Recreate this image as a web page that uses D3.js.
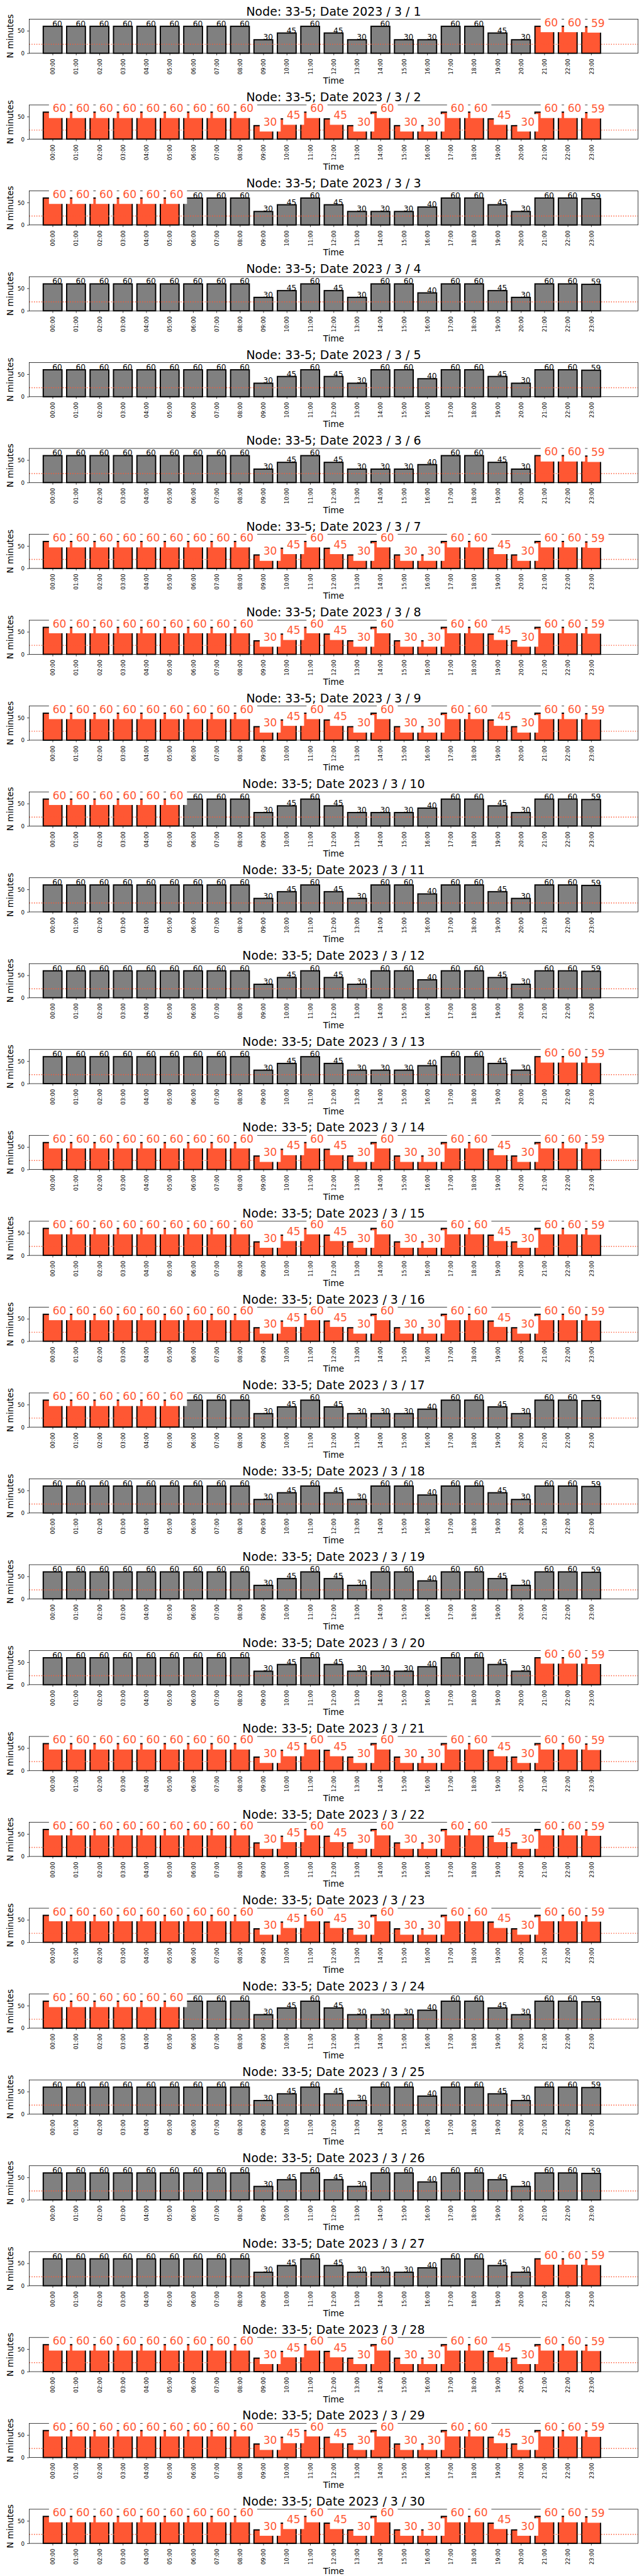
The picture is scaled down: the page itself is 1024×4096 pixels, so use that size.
<!DOCTYPE html>
<html>
<head>
<meta charset="utf-8">
<script src="https://cdn.jsdelivr.net/npm/d3@7"></script>
<style>
  html, body { margin: 0; padding: 0; background: #fff; }
  svg { display: block; }
</style>
</head>
<body>
<script>
// ---------------- DATA ----------------
const nodeName = "33-5";
const yearLabel = 2023;
const monthLabel = 3;
const days = [1,2,3,4,5,6,7,8,9,10,11,12,13,14,15,16,17,18,19,20,21,22,23,24,25,26,27,28,29,30];
const hourLabels = ["00:00","01:00","02:00","03:00","04:00","05:00","06:00","07:00","08:00","09:00","10:00","11:00",
                    "12:00","13:00","14:00","15:00","16:00","17:00","18:00","19:00","20:00","21:00","22:00","23:00"];
const yTickValues = [0, 50];
const thresholdMinutes = 20;

const minutes_03_01 = [60,60,60,60,60,60,60,60,60,30,45,60,45,30,60,30,30,60,60,45,30,60,60,59];
const minutes_03_02 = [60,60,60,60,60,60,60,60,60,30,45,60,45,30,60,30,30,60,60,45,30,60,60,59];
const minutes_03_03 = [60,60,60,60,60,60,60,60,60,30,45,60,45,30,30,30,40,60,60,45,30,60,60,59];
const minutes_03_04 = [60,60,60,60,60,60,60,60,60,30,45,60,45,30,60,60,40,60,60,45,30,60,60,59];
const minutes_03_05 = [60,60,60,60,60,60,60,60,60,30,45,60,45,30,60,60,40,60,60,45,30,60,60,59];
const minutes_03_06 = [60,60,60,60,60,60,60,60,60,30,45,60,45,30,30,30,40,60,60,45,30,60,60,59];
const minutes_03_07 = [60,60,60,60,60,60,60,60,60,30,45,60,45,30,60,30,30,60,60,45,30,60,60,59];
const minutes_03_08 = [60,60,60,60,60,60,60,60,60,30,45,60,45,30,60,30,30,60,60,45,30,60,60,59];
const minutes_03_09 = [60,60,60,60,60,60,60,60,60,30,45,60,45,30,60,30,30,60,60,45,30,60,60,59];
const minutes_03_10 = [60,60,60,60,60,60,60,60,60,30,45,60,45,30,30,30,40,60,60,45,30,60,60,59];
const minutes_03_11 = [60,60,60,60,60,60,60,60,60,30,45,60,45,30,60,60,40,60,60,45,30,60,60,59];
const minutes_03_12 = [60,60,60,60,60,60,60,60,60,30,45,60,45,30,60,60,40,60,60,45,30,60,60,59];
const minutes_03_13 = [60,60,60,60,60,60,60,60,60,30,45,60,45,30,30,30,40,60,60,45,30,60,60,59];
const minutes_03_14 = [60,60,60,60,60,60,60,60,60,30,45,60,45,30,60,30,30,60,60,45,30,60,60,59];
const minutes_03_15 = [60,60,60,60,60,60,60,60,60,30,45,60,45,30,60,30,30,60,60,45,30,60,60,59];
const minutes_03_16 = [60,60,60,60,60,60,60,60,60,30,45,60,45,30,60,30,30,60,60,45,30,60,60,59];
const minutes_03_17 = [60,60,60,60,60,60,60,60,60,30,45,60,45,30,30,30,40,60,60,45,30,60,60,59];
const minutes_03_18 = [60,60,60,60,60,60,60,60,60,30,45,60,45,30,60,60,40,60,60,45,30,60,60,59];
const minutes_03_19 = [60,60,60,60,60,60,60,60,60,30,45,60,45,30,60,60,40,60,60,45,30,60,60,59];
const minutes_03_20 = [60,60,60,60,60,60,60,60,60,30,45,60,45,30,30,30,40,60,60,45,30,60,60,59];
const minutes_03_21 = [60,60,60,60,60,60,60,60,60,30,45,60,45,30,60,30,30,60,60,45,30,60,60,59];
const minutes_03_22 = [60,60,60,60,60,60,60,60,60,30,45,60,45,30,60,30,30,60,60,45,30,60,60,59];
const minutes_03_23 = [60,60,60,60,60,60,60,60,60,30,45,60,45,30,60,30,30,60,60,45,30,60,60,59];
const minutes_03_24 = [60,60,60,60,60,60,60,60,60,30,45,60,45,30,30,30,40,60,60,45,30,60,60,59];
const minutes_03_25 = [60,60,60,60,60,60,60,60,60,30,45,60,45,30,60,60,40,60,60,45,30,60,60,59];
const minutes_03_26 = [60,60,60,60,60,60,60,60,60,30,45,60,45,30,60,60,40,60,60,45,30,60,60,59];
const minutes_03_27 = [60,60,60,60,60,60,60,60,60,30,45,60,45,30,30,30,40,60,60,45,30,60,60,59];
const minutes_03_28 = [60,60,60,60,60,60,60,60,60,30,45,60,45,30,60,30,30,60,60,45,30,60,60,59];
const minutes_03_29 = [60,60,60,60,60,60,60,60,60,30,45,60,45,30,60,30,30,60,60,45,30,60,60,59];
const minutes_03_30 = [60,60,60,60,60,60,60,60,60,30,45,60,45,30,60,30,30,60,60,45,30,60,60,59];

const dayMinutes = [minutes_03_01, minutes_03_02, minutes_03_03, minutes_03_04, minutes_03_05, minutes_03_06,
  minutes_03_07, minutes_03_08, minutes_03_09, minutes_03_10, minutes_03_11, minutes_03_12, minutes_03_13,
  minutes_03_14, minutes_03_15, minutes_03_16, minutes_03_17, minutes_03_18, minutes_03_19, minutes_03_20,
  minutes_03_21, minutes_03_22, minutes_03_23, minutes_03_24, minutes_03_25, minutes_03_26, minutes_03_27,
  minutes_03_28, minutes_03_29, minutes_03_30];

// highlighted hour range per day (-1 = none)
const highlightFrom = [21, 0, 0,-1,-1,21, 0, 0, 0, 0,-1,-1,21, 0, 0, 0, 0,-1,-1,21, 0, 0, 0, 0,-1,-1,21, 0, 0, 0];
const highlightTo   = [23,23, 5,-1,-1,23,23,23,23, 5,-1,-1,23,23,23,23, 5,-1,-1,23,23,23,23, 5,-1,-1,23,23,23,23];

// ---------------- STYLE ----------------
const ORANGE = "#FF5733";
const GRAY = "#808080";
const FONT = "'DejaVu Sans', sans-serif";
const W = 1500, H = 6000, panelH = 200;

const svg = d3.select("body").append("svg")
  .attr("width", 1024).attr("height", 4096)
  .attr("viewBox", `0 0 ${W} ${H}`)
  .style("font-family", FONT);
svg.append("rect").attr("width", W).attr("height", H).attr("fill", "#fff");

const x = d3.scaleLinear().domain([-1, 25]).range([68, 1486]);
const y = d3.scaleLinear().domain([0, 76]).range([124, 44.5]);
const barW = x(0.4) - x(-0.4);
const cxAxes = (x(-1) + x(25)) / 2;

const tickFs = 12.8, lblFs = 18, hiFs = 25;

days.forEach((day, di) => {
  const vals = dayMinutes[di];
  const hf = highlightFrom[di], ht = highlightTo[di];
  const data = vals.map((v, i) => ({ i, v, hi: hf >= 0 && i >= hf && i <= ht }));
  const g = svg.append("g").attr("transform", `translate(0,${di * panelH})`);

  // bars
  g.selectAll("rect.bar").data(data).join("rect")
    .attr("class", "bar")
    .attr("x", d => x(d.i - 0.4)).attr("width", barW)
    .attr("y", d => y(d.v)).attr("height", d => y(0) - y(d.v))
    .attr("fill", d => d.hi ? ORANGE : GRAY)
    .attr("stroke", "#000").attr("stroke-width", 2.8);

  // threshold dotted line
  g.append("line")
    .attr("x1", x(-1)).attr("x2", x(25))
    .attr("y1", y(thresholdMinutes)).attr("y2", y(thresholdMinutes))
    .attr("stroke", ORANGE).attr("stroke-width", 2.1)
    .attr("stroke-dasharray", "2.1 3.5");

  // frame
  g.append("rect")
    .attr("x", x(-1)).attr("y", y(76))
    .attr("width", x(25) - x(-1)).attr("height", y(0) - y(76))
    .attr("fill", "none").attr("stroke", "#000").attr("stroke-width", 1.1);

  // x axis
  const xAxis = d3.axisBottom(x).tickValues(d3.range(24))
    .tickFormat(i => hourLabels[i]).tickSize(4.9).tickSizeOuter(0);
  const gx = g.append("g").attr("transform", `translate(0,${y(0)})`).call(xAxis)
    .attr("font-family", FONT).attr("font-size", tickFs);
  gx.select(".domain").remove();
  gx.selectAll(".tick line").attr("stroke", "#000").attr("stroke-width", 1.1);
  gx.selectAll(".tick text")
    .attr("x", 0).attr("y", 0).attr("dy", 0)
    .attr("fill", "#000").attr("text-anchor", "end")
    .attr("transform", `translate(${0.365 * tickFs},${136.7 - 124}) rotate(-90)`);

  // y axis
  const yAxis = d3.axisLeft(y).tickValues(yTickValues).tickSize(4.9).tickPadding(5.7).tickSizeOuter(0);
  const gy = g.append("g").attr("transform", `translate(${x(-1)},0)`).call(yAxis)
    .attr("font-family", FONT).attr("font-size", tickFs);
  gy.select(".domain").remove();
  gy.selectAll(".tick line").attr("stroke", "#000").attr("stroke-width", 1.1);
  gy.selectAll(".tick text").attr("fill", "#000").attr("dy", "0.365em");

  // black value labels
  g.selectAll("text.lbl").data(data.filter(d => !d.hi)).join("text")
    .attr("class", "lbl")
    .attr("x", d => x(d.i) - 0.5).attr("y", d => y(d.v))
    .attr("font-size", lblFs).attr("fill", "#000")
    .text(d => d.v);

  // highlighted labels with white boxes
  data.filter(d => d.hi).forEach(d => {
    const lg = g.append("g");
    const t = lg.append("text")
      .attr("x", x(d.i)).attr("y", y(d.v))
      .attr("font-size", hiFs).attr("fill", ORANGE)
      .text(d.v);
    const tw = t.node().getComputedTextLength();
    lg.insert("rect", "text")
      .attr("x", x(d.i) - 8.5).attr("width", tw + 17)
      .attr("y", y(d.v) - 0.76 * hiFs - 8).attr("height", 0.76 * hiFs + 8 + 13.7)
      .attr("fill", "#fff");
  });

  // title
  g.append("text")
    .attr("x", cxAxes).attr("y", 36)
    .attr("text-anchor", "middle").attr("font-size", 27.8).attr("fill", "#000")
    .text(`Node: ${nodeName}; Date ${yearLabel} / ${monthLabel} / ${day}`);

  // x label
  g.append("text")
    .attr("x", cxAxes).attr("y", 195)
    .attr("text-anchor", "middle").attr("font-size", 20).attr("fill", "#000")
    .text("Time");

  // y label
  g.append("text")
    .attr("transform", `translate(30.5,${(y(0) + y(76)) / 2}) rotate(-90)`)
    .attr("text-anchor", "middle").attr("font-size", 20).attr("fill", "#000")
    .text("N minutes");
});
</script>
</body>
</html>
